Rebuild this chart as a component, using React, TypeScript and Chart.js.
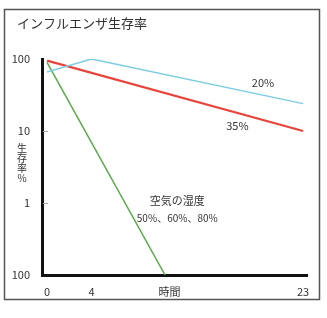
import React, { useEffect, useRef } from "react";
import { Chart, registerables } from "chart.js";

Chart.register(...registerables);

const titleText = "インフルエンザ生存率";
const yAxisTitle = ["生", "存", "率", "%"];

// hours, survival %
const hours20 = [0, 4, 23];
const survival20 = [66, 100, 24];
const hours35 = [0, 23];
const survival35 = [95, 10];
const hoursHigh = [0, 10.6];
const survivalHigh = [90, 0.1];

const yTickValues = [100, 10, 1, 0.1];
const yTickLabels = ["100", "10", "1", "100"];
const xTickValues = [0, 4, 11, 23];
const xTickLabels = ["0", "4", "時間", "23"];

const notes = [
  { x: 19.4, y: 46, text: "20%", size: 11 },
  { x: 17.1, y: 11.7, text: "35%", size: 11 },
  { x: 11.7, y: 1.07, text: "空気の湿度", size: 11 },
  { x: 11.7, y: 0.62, text: "50%、60%、80%", size: 10 },
];

const FONT = "'Noto Sans CJK JP', 'Liberation Sans', sans-serif";

const decorPlugin = {
  id: "decor",
  beforeDraw(chart: any) {
    const ctx = chart.ctx;
    ctx.save();
    ctx.fillStyle = "#ffffff";
    ctx.fillRect(0, 0, chart.width, chart.height);
    ctx.strokeStyle = "#555";
    ctx.lineWidth = 1.5;
    ctx.strokeRect(4.5, 9.5, 315, 290);
    ctx.fillStyle = "#333";
    ctx.font = `13px ${FONT}`;
    ctx.textAlign = "left";
    ctx.textBaseline = "middle";
    ctx.fillText(titleText, 17, 23);
    ctx.restore();
  },
  afterDraw(chart: any) {
    const ctx = chart.ctx;
    const xs = chart.scales.x;
    const ys = chart.scales.y;
    ctx.save();
    // inner tick marks
    ctx.strokeStyle = "#aaa";
    ctx.lineWidth = 1;
    [10, 1].forEach((v) => {
      const py = Math.round(ys.getPixelForValue(v)) + 0.5;
      ctx.beginPath();
      ctx.moveTo(chart.chartArea.left + 1, py);
      ctx.lineTo(chart.chartArea.left + 6, py);
      ctx.stroke();
    });
    // y-axis title stacked
    ctx.fillStyle = "#333";
    ctx.font = `10px ${FONT}`;
    ctx.textAlign = "center";
    ctx.textBaseline = "middle";
    yAxisTitle.forEach((c, i) => ctx.fillText(c, 22, 148 + i * 10));
    // annotations
    notes.forEach((n) => {
      ctx.font = `${n.size}px ${FONT}`;
      ctx.fillText(n.text, xs.getPixelForValue(n.x), ys.getPixelForValue(n.y));
    });
    ctx.restore();
  },
};

export default function App() {
  const ref = useRef<HTMLCanvasElement>(null);
  useEffect(() => {
    const toPts = (xs: number[], ys: number[]) => xs.map((x, i) => ({ x, y: ys[i] }));
    const chart = new Chart(ref.current!, {
      type: "line",
      data: {
        datasets: [
          {
            label: "20%",
            data: toPts(hours20, survival20),
            borderColor: "#7ccde0",
            borderWidth: 1.5,
            pointRadius: 0,
            tension: 0,
          },
          {
            label: "35%",
            data: toPts(hours35, survival35),
            borderColor: "#e8443a",
            borderWidth: 2.2,
            pointRadius: 0,
            tension: 0,
          },
          {
            label: "50%、60%、80%",
            data: toPts(hoursHigh, survivalHigh),
            borderColor: "#5aaa4a",
            borderWidth: 1.5,
            pointRadius: 0,
            tension: 0,
          },
        ],
      },
      options: {
        animation: false,
        responsive: false,
        layout: { padding: { left: 0, top: 59, right: 20, bottom: 0 } },
        plugins: { legend: { display: false }, tooltip: { enabled: false }, title: { display: false } },
        scales: {
          x: {
            type: "linear",
            min: -0.45,
            max: 23.35,
            grid: { display: false },
            border: { display: true, color: "#111", width: 3 },
            afterBuildTicks: (s: any) => {
              s.ticks = xTickValues.map((v) => ({ value: v }));
            },
            afterFit: (s: any) => {
              s.height = 43;
            },
            ticks: {
              autoSkip: false,
              maxRotation: 0,
              padding: 2,
              color: "#333",
              font: { family: FONT, size: 11 },
              callback: (v: any) => {
                const i = xTickValues.indexOf(Number(v));
                return i >= 0 ? xTickLabels[i] : "";
              },
            },
          },
          y: {
            type: "logarithmic",
            min: 0.1,
            max: 100,
            grid: { display: false },
            border: { display: true, color: "#111", width: 3 },
            afterBuildTicks: (s: any) => {
              s.ticks = yTickValues.map((v) => ({ value: v }));
            },
            afterFit: (s: any) => {
              s.width = 42;
            },
            ticks: {
              autoSkip: false,
              padding: 4,
              color: "#333",
              font: { family: FONT, size: 11 },
              callback: (v: any) => {
                const i = yTickValues.indexOf(Number(v));
                return i >= 0 ? yTickLabels[i] : "";
              },
            },
          },
        },
      },
      plugins: [decorPlugin],
    });
    return () => chart.destroy();
  }, []);
  return (
    <canvas
      ref={ref}
      width={327}
      height={318}
      style={{ position: "fixed", left: 0, top: 0, width: 327, height: 318 }}
    />
  );
}
